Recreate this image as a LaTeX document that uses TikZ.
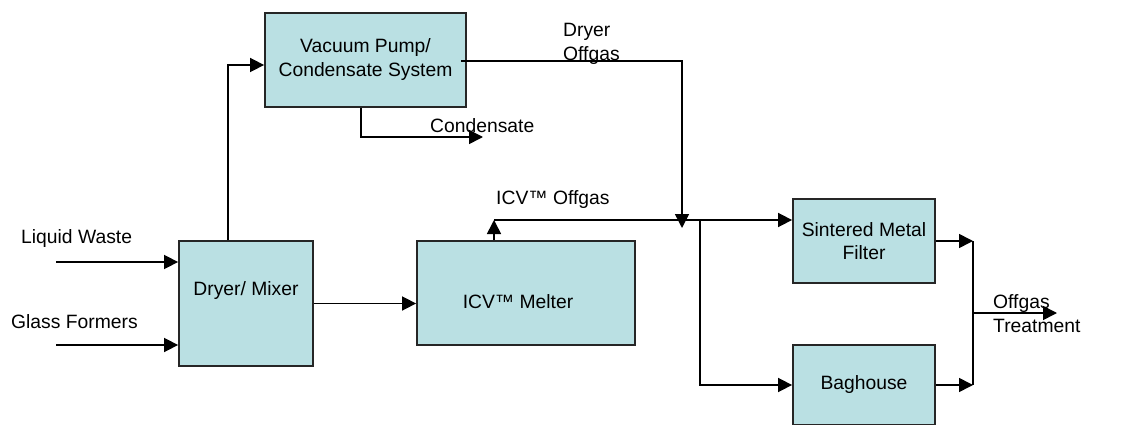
\documentclass[tikz,border=0pt]{standalone}
\usepackage{fontspec}
\setmainfont{Liberation Sans}
\usetikzlibrary{arrows.meta,positioning,calc}
\definecolor{boxfill}{RGB}{186,224,227}
\tikzset{
  pbox/.style={draw=black!85,line width=1.8pt,fill=boxfill,align=center,
               font=\fontsize{19.3}{23.5}\selectfont,inner sep=0pt},
  plabel/.style={font=\fontsize{19.3}{23.5}\selectfont,align=left,inner sep=0pt},
  pline/.style={draw=black,line width=1.6pt},
  flow/.style={-{Triangle[length=14pt,width=14pt]},pline},
}
\begin{document}
\begin{tikzpicture}[x=1pt,y=-1pt]
\useasboundingbox (0,0) rectangle (1138,425);
% --- process boxes ---
\node[pbox,minimum width=201pt,minimum height=94pt] (vac) at (365.5,60)
 {\raisebox{5pt}{\begin{tabular}{@{}c@{}}Vacuum Pump/\\Condensate System\end{tabular}}};
\node[pbox,minimum width=134pt,minimum height=125pt,
      label={[plabel,yshift=12.5pt]center:Dryer/ Mixer}] (dry) at (246,303.5) {};
\node[pbox,minimum width=218pt,minimum height=104pt,
      label={[plabel,xshift=-8pt,yshift=-9pt]center:ICV™ Melter}] (melt) at (526,293) {};
\node[pbox,minimum width=142pt,minimum height=84pt] (smf) at (864,241)
 {Sintered Metal\\Filter};
\node[pbox,minimum width=142pt,minimum height=80pt] (bag) at (864,385) {Baghouse};
% --- stream labels ---
\node[plabel,anchor=west] (lw) at (21,239) {Liquid Waste};
\node[plabel,anchor=west] (gf) at (11,322) {Glass Formers};
\node[plabel,anchor=west] (dog) at (563,44) {Dryer\\Offgas};
\node[plabel,anchor=west] (cond) at (430,126) {Condensate};
\node[plabel,anchor=west] (icvog) at (496,200) {ICV™ Offgas};
\node[plabel,anchor=west] (ogt) at (993,313.5) {Offgas\\Treatment};
% junctions and free ends
\coordinate (lwin) at (56,262);
\coordinate (gfin) at (56,345);
\coordinate (condend) at (483,137);
\coordinate (offjoin) at (682,228);
\coordinate (icv) at (494,220);
\coordinate (branch) at (700,220);
\coordinate (mrg) at (973,313);
\coordinate (outend) at (1057,313);
% feeds
\draw[flow] (lwin) -- (lwin -| dry.west);
\draw[flow] (gfin) -- (gfin -| dry.west);
\draw[flow] ([xshift=-18pt]dry.north) |- ([yshift=-5pt]vac.west);
\draw[flow] (dry.east) -- (dry.east -| melt.west);
% dryer offgas and condensate
\draw[flow] ([xshift=-6pt,yshift=-1pt]vac.east) -| (offjoin);
\draw[flow] ([xshift=-4.5pt]vac.south) |- (condend);
% melter offgas
\draw[flow] (melt.north -| icv) -- (icv);
\draw[flow] (icv) -- (icv -| smf.west);
\draw[flow] (branch) |- (bag.west);
% offgas treatment
\draw[flow] (smf.east) -- (smf.east -| mrg);
\draw[flow] (bag.east) -- (bag.east -| mrg);
\draw[pline] (smf.east -| mrg) -- (bag.east -| mrg);
\draw[flow] (mrg) -- (outend);
\end{tikzpicture}
\end{document}
